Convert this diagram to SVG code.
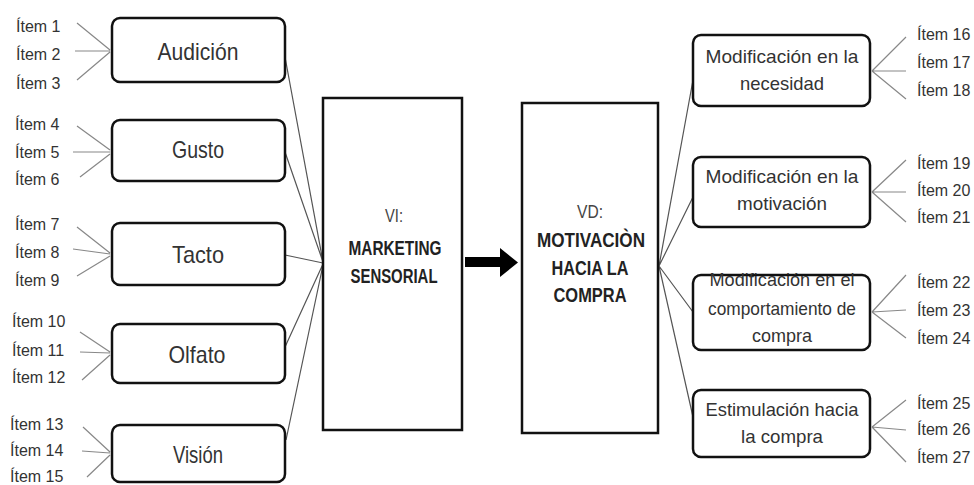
<svg xmlns="http://www.w3.org/2000/svg" width="974" height="485" viewBox="0 0 974 485">
<defs>
<style>
.bg{fill:#fff}
.box{fill:#fff;stroke:#111;stroke-width:2.5}
.big{fill:#fff;stroke:#111;stroke-width:2.5}
.lbl{font-family:"Liberation Sans",Arial,sans-serif;font-size:24px;fill:#333;text-anchor:middle}
.rl{font-family:"Liberation Sans",Arial,sans-serif;font-size:19px;fill:#333;text-anchor:middle}
.it{font-family:"Liberation Sans",Arial,sans-serif;font-size:16px;fill:#333}
.vt{font-family:"Liberation Sans",Arial,sans-serif;font-size:19px;fill:#444;text-anchor:middle}
.vb{font-family:"Liberation Sans",Arial,sans-serif;font-size:20px;font-weight:bold;fill:#222;text-anchor:middle}
.ln{stroke:#888;stroke-width:1.2;fill:none}
.lk{stroke:#555;stroke-width:1.2;fill:none}
</style>
</defs>
<rect class="bg" x="0" y="0" width="974" height="485"/>
<g id="connectors">
<path class="ln" d="M77,23 L110,50 M75,51 L110,51 M77,80 L110,52"/>
<path class="ln" d="M77,126 L110,150 M73,152 L110,152 M80,177 L110,154"/>
<path class="ln" d="M77,227 L110,253 M73,249 L110,254 M77,276 L110,256"/>
<path class="ln" d="M80,332 L110,352 M80,352 L110,353 M82,380 L110,355"/>
<path class="ln" d="M83,427 L110,452 M82,451 L110,453 M87,477 L110,455"/>
<path class="lk" d="M285,57 L323,262 M285,152 L323,262 M285,255 L323,263 M285,347 L323,264 M286,440 L323,265"/>
<path class="lk" d="M659,266 L693,80 M659,266 L693,197 M659,266 L693,312 M659,266 L693,417"/>
<path class="ln" d="M872,71 L906,37 M872,71 L906,71 M872,71 L906,99"/>
<path class="ln" d="M872,192 L906,160 M872,192 L906,192 M872,192 L906,222"/>
<path class="ln" d="M872,312 L906,275 M872,312 L906,310 M872,312 L906,338"/>
<path class="ln" d="M872,427 L906,400 M872,427 L906,430 M872,427 L906,462"/>
<path d="M465,257 L500,257 L500,248 L518,262.5 L500,277 L500,267 L465,267 Z" fill="#000"/>
</g>
<g id="items-left">
<text class="it" x="16" y="32">Ítem 1</text>
<text class="it" x="16" y="60">Ítem 2</text>
<text class="it" x="16" y="89">Ítem 3</text>
<text class="it" x="15" y="130">Ítem 4</text>
<text class="it" x="15" y="158">Ítem 5</text>
<text class="it" x="15" y="185">Ítem 6</text>
<text class="it" x="15" y="230">Ítem 7</text>
<text class="it" x="15" y="258">Ítem 8</text>
<text class="it" x="15" y="286">Ítem 9</text>
<text class="it" x="12" y="327">Ítem 10</text>
<text class="it" x="12" y="356">Ítem 11</text>
<text class="it" x="12" y="383">Ítem 12</text>
<text class="it" x="10" y="430">Ítem 13</text>
<text class="it" x="10" y="456">Ítem 14</text>
<text class="it" x="10" y="482">Ítem 15</text>
</g>
<g id="audicion"><rect class="box" x="112" y="18" width="173" height="64" rx="8"/><text class="lbl" x="198" y="60" textLength="81" lengthAdjust="spacingAndGlyphs">Audición</text></g>
<g id="gusto"><rect class="box" x="112" y="120" width="173" height="61" rx="8"/><text class="lbl" x="198" y="158" textLength="52" lengthAdjust="spacingAndGlyphs">Gusto</text></g>
<g id="tacto"><rect class="box" x="112" y="223" width="173" height="62" rx="8"/><text class="lbl" x="198" y="263" textLength="52" lengthAdjust="spacingAndGlyphs">Tacto</text></g>
<g id="olfato"><rect class="box" x="112" y="324" width="173" height="59" rx="8"/><text class="lbl" x="197" y="363" textLength="57" lengthAdjust="spacingAndGlyphs">Olfato</text></g>
<g id="vision"><rect class="box" x="112" y="425" width="173" height="57" rx="8"/><text class="lbl" x="198" y="463" textLength="50" lengthAdjust="spacingAndGlyphs">Visión</text></g>
<g id="vi">
<rect class="big" x="323" y="98" width="139" height="332"/>
<text class="vt" x="394" y="222" textLength="18" lengthAdjust="spacingAndGlyphs">VI:</text>
<text class="vb" x="395" y="255" textLength="93" lengthAdjust="spacingAndGlyphs">MARKETING</text>
<text class="vb" x="394" y="283" textLength="87" lengthAdjust="spacingAndGlyphs">SENSORIAL</text>
</g>
<g id="vd">
<rect class="big" x="522" y="103" width="136" height="330"/>
<text class="vt" x="590" y="218" textLength="26" lengthAdjust="spacingAndGlyphs">VD:</text>
<text class="vb" x="591" y="247" textLength="108" lengthAdjust="spacingAndGlyphs">MOTIVACIÒN</text>
<text class="vb" x="590" y="275" textLength="77" lengthAdjust="spacingAndGlyphs">HACIA LA</text>
<text class="vb" x="590" y="302" textLength="73" lengthAdjust="spacingAndGlyphs">COMPRA</text>
</g>
<g id="necesidad"><rect class="box" x="693" y="35" width="177" height="71" rx="8"/>
<text class="rl" x="782" y="63" textLength="153" lengthAdjust="spacingAndGlyphs">Modificación en la</text>
<text class="rl" x="782" y="90" textLength="84" lengthAdjust="spacingAndGlyphs">necesidad</text></g>
<g id="motivacion"><rect class="box" x="693" y="157" width="177" height="70" rx="8"/>
<text class="rl" x="782" y="183" textLength="153" lengthAdjust="spacingAndGlyphs">Modificación en la</text>
<text class="rl" x="782" y="210" textLength="90" lengthAdjust="spacingAndGlyphs">motivación</text></g>
<g id="comportamiento"><rect class="box" x="693" y="275" width="177" height="75" rx="8"/>
<text class="rl" x="782" y="286" textLength="145" lengthAdjust="spacingAndGlyphs">Modificación en el</text>
<text class="rl" x="782" y="315" textLength="148" lengthAdjust="spacingAndGlyphs">comportamiento de</text>
<text class="rl" x="782" y="342" textLength="60" lengthAdjust="spacingAndGlyphs">compra</text></g>
<g id="estimulacion"><rect class="box" x="693" y="390" width="177" height="67" rx="8"/>
<text class="rl" x="782" y="416" textLength="153" lengthAdjust="spacingAndGlyphs">Estimulación hacia</text>
<text class="rl" x="782" y="443" textLength="82" lengthAdjust="spacingAndGlyphs">la compra</text></g>
<g id="items-right">
<text class="it" x="917" y="40">Ítem 16</text>
<text class="it" x="917" y="68">Ítem 17</text>
<text class="it" x="917" y="96">Ítem 18</text>
<text class="it" x="917" y="169">Ítem 19</text>
<text class="it" x="917" y="196">Ítem 20</text>
<text class="it" x="917" y="223">Ítem 21</text>
<text class="it" x="917" y="288">Ítem 22</text>
<text class="it" x="917" y="316">Ítem 23</text>
<text class="it" x="917" y="344">Ítem 24</text>
<text class="it" x="917" y="409">Ítem 25</text>
<text class="it" x="917" y="435">Ítem 26</text>
<text class="it" x="917" y="463">Ítem 27</text>
</g>
</svg>
